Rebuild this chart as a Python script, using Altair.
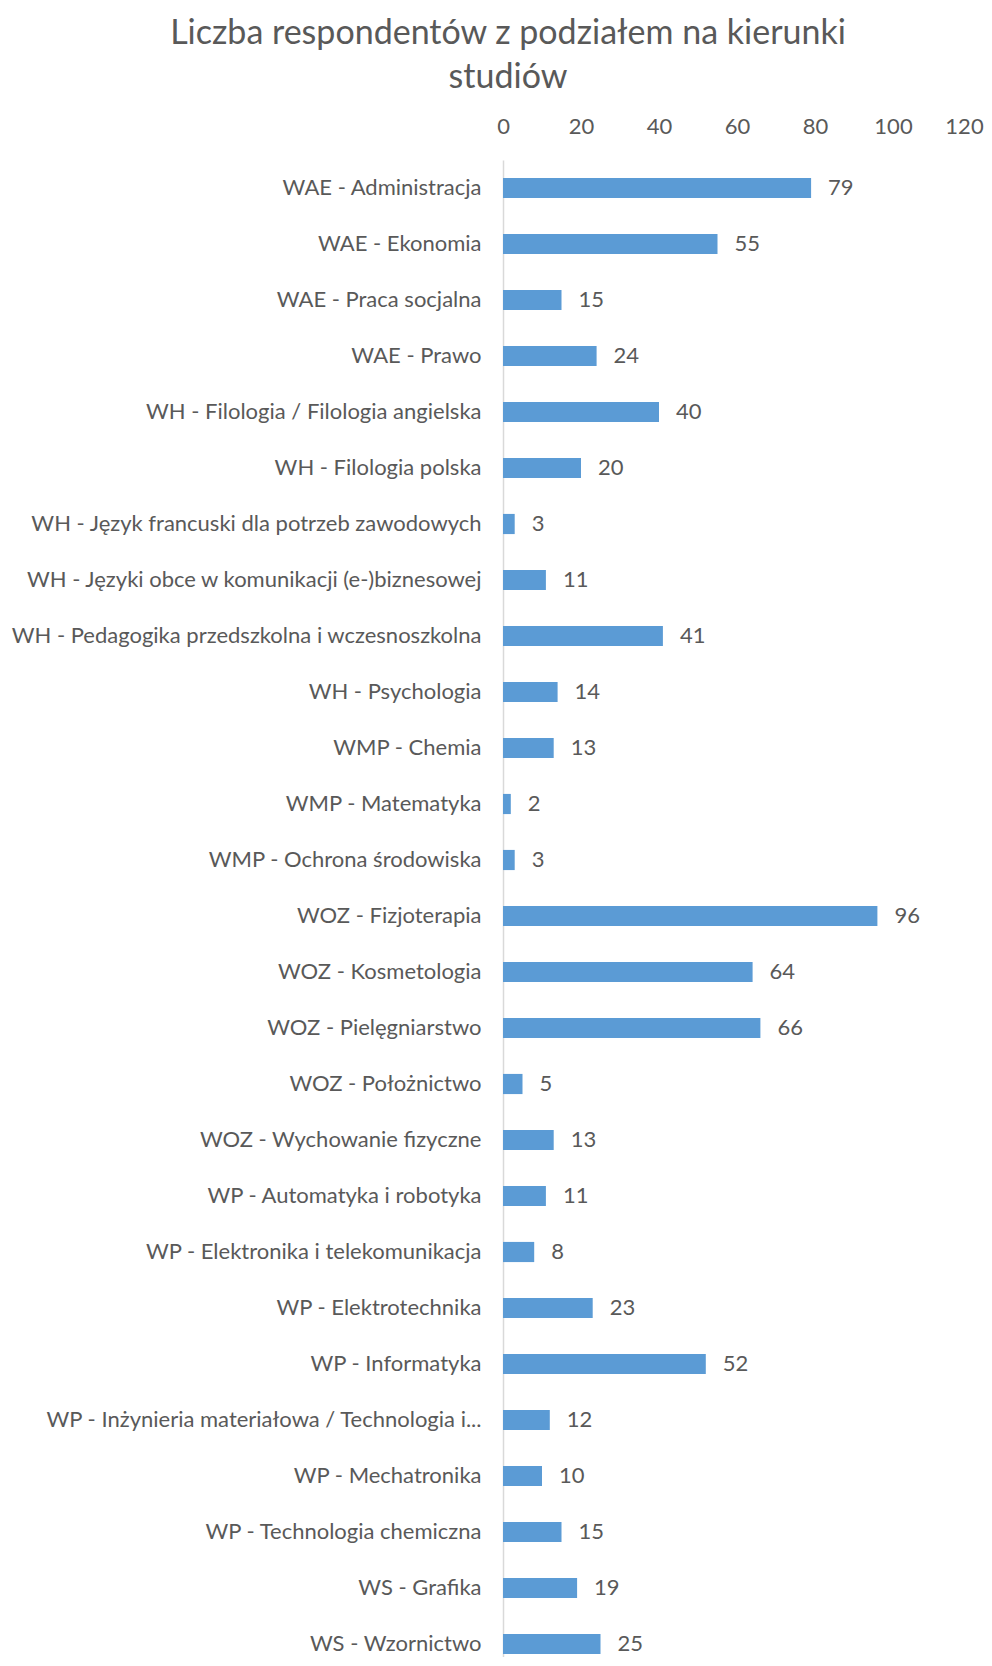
import altair as alt
import pandas as pd

categories = [
    "WAE - Administracja",
    "WAE - Ekonomia",
    "WAE - Praca socjalna",
    "WAE - Prawo",
    "WH - Filologia / Filologia angielska",
    "WH - Filologia polska",
    "WH - Język francuski dla potrzeb zawodowych",
    "WH - Języki obce w komunikacji (e-)biznesowej",
    "WH - Pedagogika przedszkolna i wczesnoszkolna",
    "WH - Psychologia",
    "WMP - Chemia",
    "WMP - Matematyka",
    "WMP - Ochrona środowiska",
    "WOZ - Fizjoterapia",
    "WOZ - Kosmetologia",
    "WOZ - Pielęgniarstwo",
    "WOZ - Położnictwo",
    "WOZ - Wychowanie fizyczne",
    "WP - Automatyka i robotyka",
    "WP - Elektronika i telekomunikacja",
    "WP - Elektrotechnika",
    "WP - Informatyka",
    "WP - Inżynieria materiałowa / Technologia i...",
    "WP - Mechatronika",
    "WP - Technologia chemiczna",
    "WS - Grafika",
    "WS - Wzornictwo",
]
values = [79, 55, 15, 24, 40, 20, 3, 11, 41, 14, 13, 2, 3, 96, 64, 66, 5, 13,
          11, 8, 23, 52, 12, 10, 15, 19, 25]
x_ticks = [0, 20, 40, 60, 80, 100, 120]

df = pd.DataFrame({"kierunek": categories, "liczba": values})

FONT = "Lato"
GRAY = "#595959"
FS = 22

y_enc = alt.Y("kierunek:N", sort=categories, title=None,
              scale=alt.Scale(paddingInner=0.64, paddingOuter=0.32),
              axis=alt.Axis(domain=True, domainColor="#d9d9d9", domainWidth=1.5,
                            ticks=False, labelPadding=22, labelFontSize=FS,
                            labelColor=GRAY, labelFont=FONT, labelLimit=520))
x_enc = alt.X("liczba:Q", title=None,
              scale=alt.Scale(domain=[0, 120], nice=False),
              axis=alt.Axis(orient="top", values=x_ticks, domain=False, ticks=False,
                            grid=False, labelPadding=22, labelFontSize=FS,
                            labelFlush=False,
                            labelOffset={"expr": "datum.value == 120 ? -7 : 0"},
                            labelColor=GRAY, labelFont=FONT))

bars = alt.Chart(df).mark_bar(color="#5b9bd5").encode(x=x_enc, y=y_enc)
labels = alt.Chart(df).mark_text(align="left", baseline="middle", dx=17,
                                 fontSize=FS, font=FONT, color=GRAY).encode(
    x=alt.X("liczba:Q"), y=alt.Y("kierunek:N", sort=categories), text="liczba:Q")

chart = (bars + labels).properties(
    width=468, height=1512,
    title=alt.TitleParams(["Liczba respondentów z podziałem na kierunki", "studiów"],
                          fontSize=34, font=FONT, fontWeight="normal", color=GRAY,
                          lineHeight=44, anchor="middle", offset=20, dx=-229),
    autosize=alt.AutoSizeParams(type="none"),
    padding={"left": 495, "top": 152, "right": 13, "bottom": -15},
).configure_view(stroke=None)

chart.save("out.html", embed_options={"renderer": "svg", "actions": False})
